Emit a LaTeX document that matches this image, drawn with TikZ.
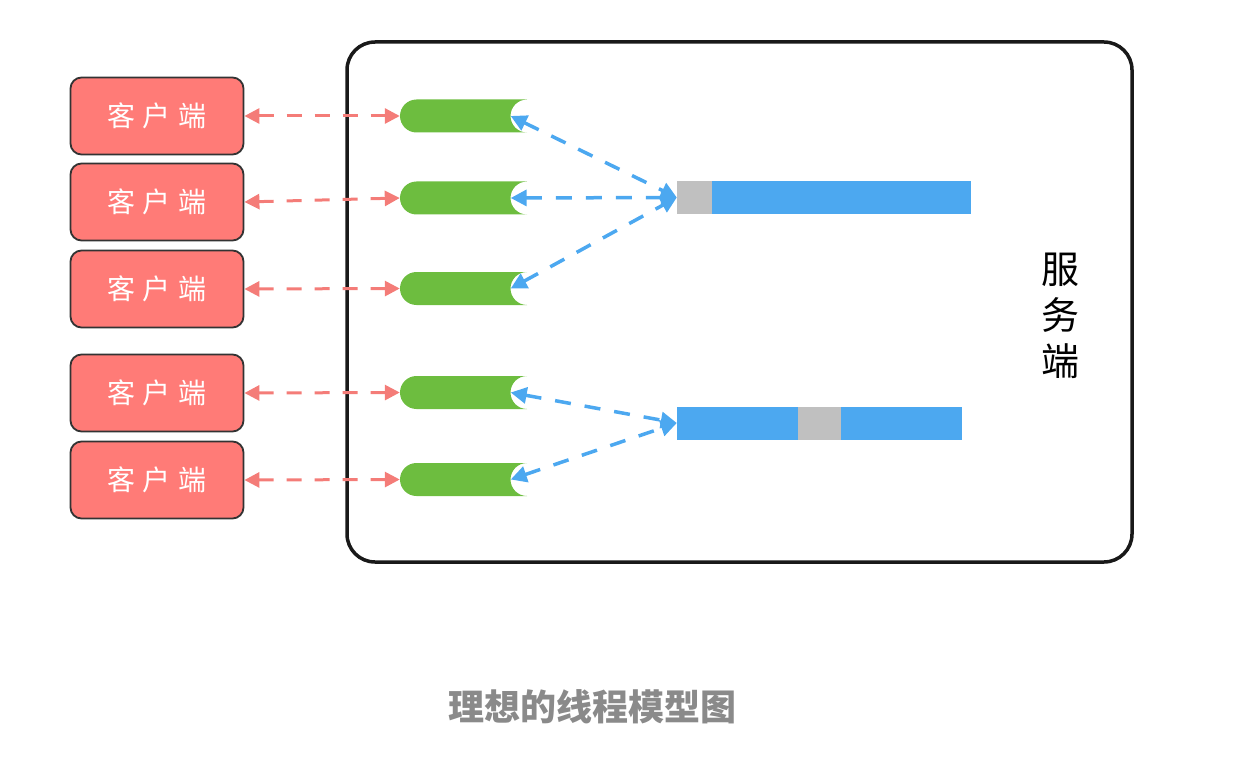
\documentclass[tikz,border=0pt]{standalone}
\usepackage{fontspec}
\setmainfont{Noto Sans CJK SC}
\usepackage{xcolor}
\usepackage{tikz}
\usetikzlibrary{calc,arrows.meta}
\definecolor{clientred}{HTML}{FF7B77}
\definecolor{linkred}{HTML}{F47C78}
\definecolor{threadgreen}{HTML}{6DBD3F}
\definecolor{queueblue}{HTML}{4CA8F0}
\definecolor{idlegray}{HTML}{C0C0C0}
\definecolor{captiongray}{HTML}{8A8A8A}
\tikzset{
  client/.style={draw=black!80, line width=1.8pt, fill=clientred, rounded corners=11pt,
    minimum width=173pt, minimum height=77pt, inner sep=0pt,
    text=white, font=\fontsize{28}{30}\selectfont},
  thread/.style={minimum width=127pt, minimum height=33pt, inner sep=0pt,
    path picture={
      \fill[threadgreen] (path picture bounding box.north east)
        -- ([xshift=16.5pt]path picture bounding box.north west)
        arc[start angle=90, end angle=270, radius=16.5pt]
        -- (path picture bounding box.south east)
        arc[start angle=270, end angle=90, radius=16.5pt] -- cycle;
    }},
  bar/.style={fill=queueblue, minimum height=33pt, inner sep=0pt},
  idle/.style={fill=idlegray, minimum height=33pt, inner sep=0pt},
  redlink/.style={draw=linkred, line width=3pt, dash pattern=on 15pt off 13pt,
    {Triangle[length=15pt,width=15pt]}-{Triangle[length=15pt,width=15pt]}},
  bluelink/.style={draw=queueblue, line width=3.5pt, dash pattern=on 16pt off 14pt,
    {Triangle[length=16pt,width=16pt]}-{Triangle[length=16pt,width=16pt]}},
  lab/.style={font=\fontsize{38}{46}\selectfont, align=center},
}

\begin{document}
\begin{tikzpicture}[x=1pt,y=-1pt]
  \useasboundingbox (0,0) rectangle (1242,762);

  % server frame
  \draw[line width=3.5pt, draw=black!90, rounded corners=28pt] (347,42) rectangle (1132,562);
  \node[lab] (srv) at (1060,316) {服\\务\\端};

  % clients
  \node[client] (c1) at (157,116) {客\hspace{8pt}户\hspace{8pt}端};
  \node[client] (c2) at (157,202) {客\hspace{8pt}户\hspace{8pt}端};
  \node[client] (c3) at (157,289) {客\hspace{8pt}户\hspace{8pt}端};
  \node[client] (c4) at (157,393) {客\hspace{8pt}户\hspace{8pt}端};
  \node[client] (c5) at (157,480) {客\hspace{8pt}户\hspace{8pt}端};

  % threads
  \node[thread] (g1) at (463.5,116) {};
  \node[thread] (g2) at (463.5,198) {};
  \node[thread] (g3) at (463.5,288.5) {};
  \node[thread] (g4) at (463.5,392.5) {};
  \node[thread] (g5) at (463.5,479.5) {};

  % queues
  \node[bar, minimum width=294pt] (b1) at (824,197.5) {};
  \node[idle, minimum width=35pt, anchor=west] (i1) at (b1.west) {};
  \node[bar, minimum width=285pt] (b2) at (819.5,423) {};
  \node[idle, minimum width=43pt] (i2) at (b2) {};

  \draw[redlink] (c1.east) -- (g1.west);
  \draw[redlink] (c2.east) -- (g2.west);
  \draw[redlink] (c3.east) -- (g3.west);
  \draw[redlink] (c4.east) -- (g4.west);
  \draw[redlink] (c5.east) -- (g5.west);

  % notch of each thread
  \draw[bluelink] ([xshift=-16.5pt]g1.east) -- (b1.west);
  \draw[bluelink] ([xshift=-16.5pt]g2.east) -- (b1.west);
  \draw[bluelink] ([xshift=-16.5pt]g3.east) -- (b1.west);
  \draw[bluelink] ([xshift=-16.5pt]g4.east) -- (b2.west);
  \draw[bluelink] ([xshift=-16.5pt]g5.east) -- (b2.west);

  \node[text=captiongray, font=\fontsize{36}{42}\selectfont\bfseries] (cap) at (592,707) {理想的线程模型图};
\end{tikzpicture}
\end{document}
